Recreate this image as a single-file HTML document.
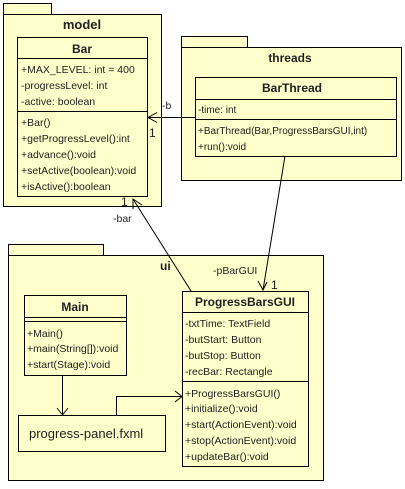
<!DOCTYPE html>
<html><head><meta charset="utf-8"><style>
body{margin:0;background:#fff;}
svg text{font-family:"Liberation Sans",sans-serif;font-size:10.5px;fill:#222;}
.b{font-weight:bold;font-size:12px;}
</style></head><body>
<svg width="405" height="484" viewBox="0 0 405 484" xmlns="http://www.w3.org/2000/svg">
<g fill="#ffffcc" stroke="#000" stroke-width="1">
<rect x="3.5" y="3.5" width="48" height="11"/>
<rect x="3.5" y="14.5" width="158" height="192"/>
<rect x="17.5" y="37.5" width="130" height="159"/>
<rect x="181.5" y="36.5" width="66" height="11"/>
<rect x="181.5" y="47.5" width="220" height="133"/>
<rect x="195.5" y="77.5" width="201" height="79"/>
<rect x="8.5" y="244.5" width="95" height="11"/>
<rect x="8.5" y="255.5" width="315" height="225"/>
<rect x="24.5" y="295.5" width="102" height="80"/>
<rect x="182.5" y="291.5" width="126" height="175"/>
<rect x="18.5" y="415.5" width="147" height="36"/>
</g>
<g stroke="#000" stroke-width="1" fill="none">
<line x1="17" y1="58.5" x2="147" y2="58.5"/>
<line x1="17" y1="111.5" x2="147" y2="111.5"/>
<line x1="195" y1="99.5" x2="396" y2="99.5"/>
<line x1="195" y1="119.5" x2="396" y2="119.5"/>
<line x1="24" y1="317.5" x2="126" y2="317.5"/>
<line x1="24" y1="321.5" x2="126" y2="321.5"/>
<line x1="182" y1="312.5" x2="308" y2="312.5"/>
<line x1="182" y1="381.5" x2="308" y2="381.5"/>
<line x1="195" y1="117.5" x2="148" y2="117.5"/>
<polyline points="157,112.5 148,117.5 157,122.5"/>
<line x1="285" y1="156" x2="263" y2="290"/>
<polyline points="258,281 263,290 267,282"/>
<line x1="191" y1="291" x2="133" y2="199"/>
<polyline points="133,209 133,199 142,205"/>
<line x1="62.5" y1="375" x2="62.5" y2="415"/>
<polyline points="57,408 62.5,415 68,408"/>
<polyline points="116.5,415 116.5,396.5 182,396.5"/>
<polyline points="175,391 182,396.5 175,402"/>
</g>
<text class="b" x="82" y="29" text-anchor="middle" style="font-size:13px">model</text>
<text class="b" x="82" y="53" text-anchor="middle">Bar</text>
<text x="21" y="73">+MAX_LEVEL: int = 400</text>
<text x="21" y="89">-progressLevel: int</text>
<text x="21" y="105">-active: boolean</text>
<text x="21" y="126">+Bar()</text>
<text x="21" y="142">+getProgressLevel():int</text>
<text x="21" y="158">+advance():void</text>
<text x="21" y="174">+setActive(boolean):void</text>
<text x="21" y="190">+isActive():boolean</text>
<text class="b" x="290" y="62" text-anchor="middle">threads</text>
<text class="b" x="292" y="92" text-anchor="middle">BarThread</text>
<text x="198" y="113" style="font-size:10px">-time: int</text>
<text x="198" y="134" style="font-size:10px">+BarThread(Bar,ProgressBarsGUI,int)</text>
<text x="198" y="150" style="font-size:10px">+run():void</text>
<text x="162" y="109">-b</text>
<text x="149" y="137" style="font-size:12px">1</text>
<text x="121" y="206" style="font-size:12px">1</text>
<text x="113" y="222">-bar</text>
<text x="213" y="274">-pBarGUI</text>
<text x="271" y="289" style="font-size:12px">1</text>
<text class="b" x="160" y="270">ui</text>
<text class="b" x="75" y="311" text-anchor="middle">Main</text>
<text x="27" y="337">+Main()</text>
<text x="27" y="352">+main(String[]):void</text>
<text x="27" y="368">+start(Stage):void</text>
<text class="b" x="245" y="306" text-anchor="middle">ProgressBarsGUI</text>
<text x="185" y="327">-txtTime: TextField</text>
<text x="185" y="343">-butStart: Button</text>
<text x="185" y="359">-butStop: Button</text>
<text x="185" y="375">-recBar: Rectangle</text>
<text x="185" y="397">+ProgressBarsGUI()</text>
<text x="185" y="412">+initialize():void</text>
<text x="185" y="428">+start(ActionEvent):void</text>
<text x="185" y="444">+stop(ActionEvent):void</text>
<text x="185" y="460">+updateBar():void</text>
<text x="29" y="438" style="font-size:13px">progress-panel.fxml</text>
</svg>
</body></html>
